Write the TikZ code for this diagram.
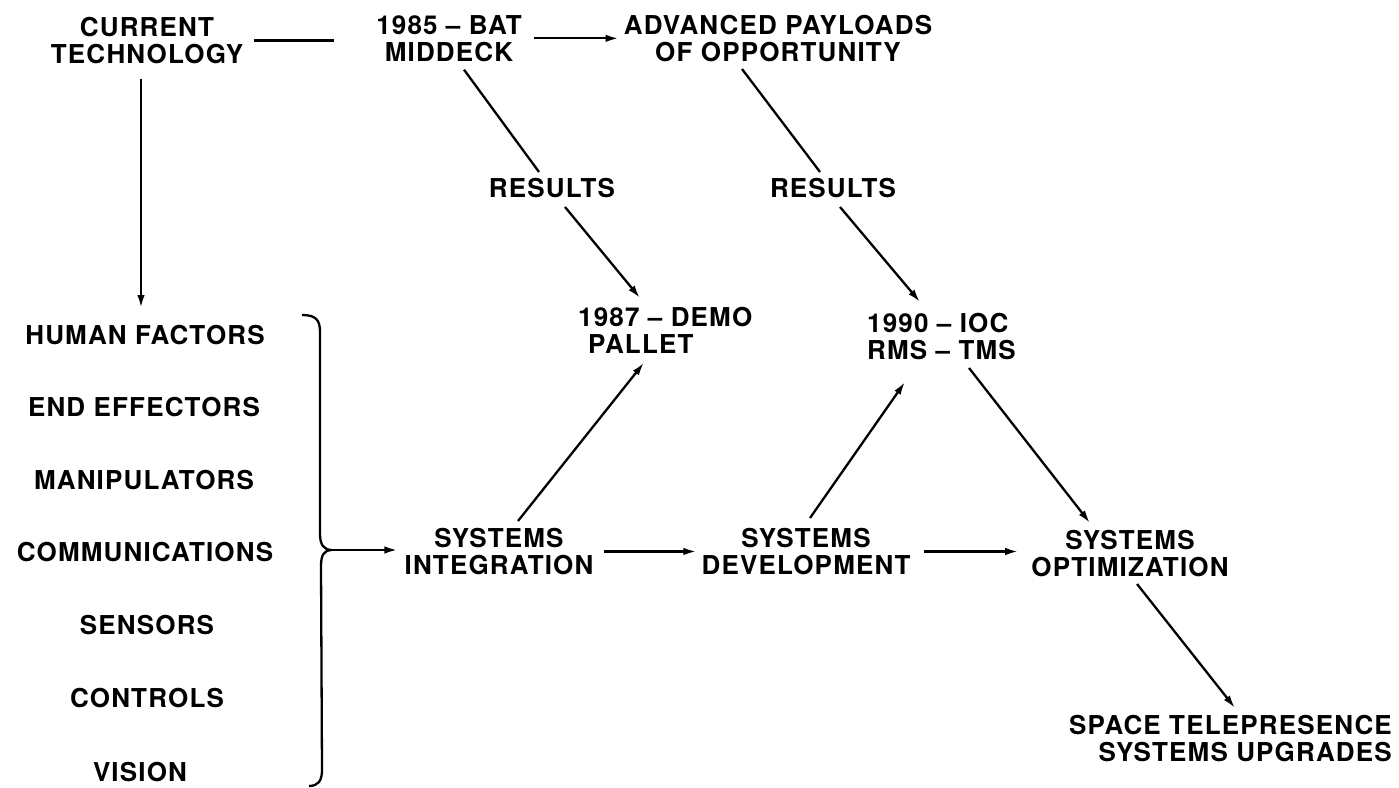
\documentclass[tikz,border=0pt]{standalone}
\usepackage{fontspec}
\setmainfont{TeX Gyre Heros}[LetterSpace=4.5]
\usetikzlibrary{arrows.meta}
\begin{document}
\begin{tikzpicture}[x=1pt,y=-1pt,
  txt/.style={font=\fontsize{26}{27}\selectfont\bfseries, inner sep=0pt, align=center},
  conn/.style={line width=2.3pt},
  arr/.style={conn, -{Latex[length=13pt,width=7.5pt]}}]
\useasboundingbox (0,0) rectangle (1399,787);
\fill[white] (0,0) rectangle (1399,787);

% top row
\node[txt, anchor=north] (cur) at (147,17) {CURRENT\\TECHNOLOGY};
\node[txt, anchor=north] (bat) at (449,15) {1985 – BAT\\MIDDECK};
\node[txt, anchor=north] (apo) at (778,15) {ADVANCED PAYLOADS\\OF OPPORTUNITY};
\node[txt, anchor=north] (res1) at (552,178) {RESULTS};
\node[txt, anchor=north] (res2) at (833,178) {RESULTS};

% milestones
\node[txt, anchor=north west, align=left] (demo) at (578,307) {1987 – DEMO\\\hspace*{10pt}PALLET};
\node[txt, anchor=north west, align=left] (ioc) at (867,313) {1990 – IOC\\RMS – TMS};

% system phases
\node[txt, anchor=north] (sint) at (499,528) {SYSTEMS\\INTEGRATION};
\node[txt, anchor=north] (sdev) at (806,528) {SYSTEMS\\DEVELOPMENT};
\node[txt, anchor=north] (sopt) at (1130,530) {SYSTEMS\\OPTIMIZATION};
\node[txt, anchor=north east, align=right] (stp) at (1392,715) {SPACE TELEPRESENCE\\SYSTEMS UPGRADES};

% technology areas
\node[txt, anchor=north] (hf) at (145,325) {HUMAN FACTORS};
\node[txt, anchor=north] (ee) at (144,397) {END EFFECTORS};
\node[txt, anchor=north] (mp) at (144,470) {MANIPULATORS};
\node[txt, anchor=north] (cm) at (145,542) {COMMUNICATIONS};
\node[txt, anchor=north] (sn) at (147,615) {SENSORS};
\node[txt, anchor=north] (ct) at (147,688) {CONTROLS};
\node[txt, anchor=north] (vs) at (140,762) {VISION};

% brace gathering the technology areas
\coordinate (bt) at (332,550);
\draw[conn] (302,315) .. controls (316,315) and (320,320) .. (320,332)
  -- (320,534) .. controls (320,545) and (324,550) .. (bt)
  .. controls (324,550) and (321,555) .. (321,566)
  -- (322,770) .. controls (322,781) and (318,786) .. (309,786);

% connectors
\draw[conn, shorten <=11pt, shorten >=42pt] (cur.east) -- (cur.east -| bat.west);
\draw[arr, shorten <=12pt, shorten >=5pt] (bat.east) -- (bat.east -| apo.west);
\draw[arr] ([shift={(-6,15)}]cur.south) -- ([shift={(-4,-17)}]hf.north);

\draw[conn] ([shift={(15,8)}]bat.south) -- ([shift={(-13,-6)}]res1.north);
\draw[arr] ([shift={(13,9)}]res1.south) -- ([shift={(62,-9)}]demo.north west);
\draw[conn] ([shift={(-36,7)}]apo.south) -- ([shift={(-13,-6)}]res2.north);
\draw[arr] ([shift={(7,9)}]res2.south) -- ([shift={(53,-11)}]ioc.north west);

\draw[arr, shorten >=7pt] (bt) -- (bt -| sint.west);
\draw[arr, shorten <=10pt, shorten >=5pt] (sint.east) -- (sint.east -| sdev.west);
\draw[arr, shorten <=13pt, shorten >=13pt] (sdev.east) -- (sdev.east -| sopt.west);

\draw[arr] ([shift={(19,-7)}]sint.north) -- ([shift={(66,9)}]demo.south west);
\draw[arr] ([shift={(4,-10)}]sdev.north) -- ([shift={(38,22)}]ioc.south west);
\draw[arr] ([shift={(102,8)}]ioc.south west) -- ([shift={(-40,-7)}]sopt.north);
\draw[arr] ([shift={(7,7)}]sopt.south) -- ([shift={(-157,-7)}]stp.north east);
\end{tikzpicture}
\end{document}
